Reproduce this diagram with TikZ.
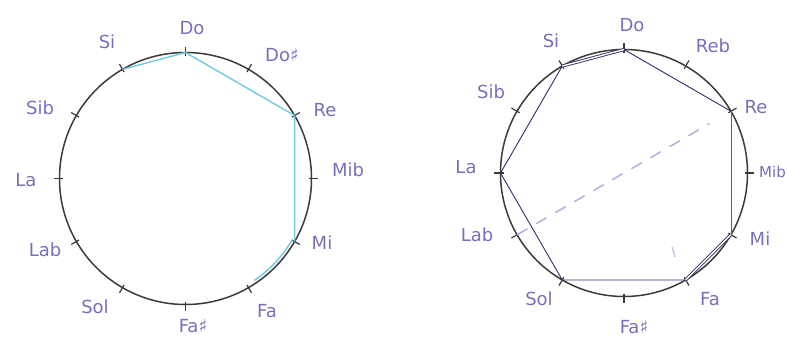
\documentclass[tikz,border=0pt]{standalone}
\usepackage{fontspec}
\setmainfont{DejaVu Sans}
\definecolor{InkBlue}{RGB}{118,112,188}
\definecolor{RingGray}{RGB}{62,58,58}
\definecolor{ScaleCyan}{RGB}{112,200,226}
\definecolor{ScaleNavy}{RGB}{48,46,104}
\definecolor{ScalePurple}{RGB}{92,82,170}
\definecolor{DashBlue}{RGB}{178,182,218}
\usetikzlibrary{calc}
\tikzset{
  ring/.style={RingGray,line width=1.5pt},
  tickmark/.style={RingGray,line width=1.2pt},
  note/.style={InkBlue,font=\fontsize{18}{20}\selectfont,inner sep=0pt},
  cyanscale/.style={ScaleCyan,line width=1.4pt,line join=round},
  navyscale/.style={ScaleNavy,line width=0.9pt,line join=round},
}

\begin{document}
\begin{tikzpicture}[x=1pt,y=-1pt]
\useasboundingbox (0,0) rectangle (787,340);
% Left circle
\coordinate (lc) at (185.5,178.5);
\draw[ring] (lc) circle (126);
\foreach \i in {0,...,11}{
  \coordinate (L\i) at ($(lc)+(-90+30*\i:126)$);
  \draw[tickmark] ($(lc)+(-90+30*\i:123)$) -- ($(lc)+(-90+30*\i:132)$);
}
\foreach \i/\txt/\x/\y in {0/Do/192/28, 1/Do♯/282/55, 2/Re/325/110, 3/Mib/348/170,
  4/Mi/322/243, 5/Fa/267/311, 6/Fa♯/193/326, 7/Sol/95/307,
  8/Lab/45/250, 9/La/26/180, 10/Sib/40/108, 11/Si/107/42}
  \node[note] (ln\i) at (\x,\y) {\txt};
% scale on the left circle
\draw[cyanscale] (L11) -- (L0) -- (L2) -- (L4);
\draw[cyanscale] ($(lc)+(30:123)$) arc[start angle=30,end angle=56,radius=123];

% Right circle
\coordinate (rc) at (624,173);
\draw[ring] (rc) circle (123.5);
\foreach \i in {0,...,11}{
  \coordinate (R\i) at ($(rc)+(-90+30*\i:123.5)$);
  \draw[tickmark] ($(rc)+(-90+30*\i:120.5)$) -- ($(rc)+(-90+30*\i:130)$);
}
\foreach \i/\txt/\x/\y in {0/Do/632/25, 1/Reb/713/46, 2/Re/756/107,
  4/Mi/760/239, 5/Fa/710/299, 6/Fa♯/634/327, 7/Sol/539/299,
  8/Lab/477/235, 9/La/466/167, 10/Sib/491/92, 11/Si/551/41}
  \node[note] (rn\i) at (\x,\y) {\txt};
\node[note,font=\fontsize{15}{17}\selectfont,anchor=east] (rn3) at (786,172) {Mib};
% dashed diameter Lab - Re
\coordinate (dashend) at ($(R8)!0.9!(R2)$);
\draw[DashBlue,line width=1.6pt,dash pattern=on 12pt off 10pt] (R8) -- (dashend);
\draw[DashBlue!80,line width=1.4pt] (672,247) -- (675,257);
% scale on the right circle
\draw[navyscale] (R0) -- (R2);
\draw[ScalePurple,line width=0.9pt] (R2) -- (R4);
\draw[navyscale] (R5) -- (R7) -- (R9) -- (R11);
\draw[navyscale,double=white,double distance=1.4pt] (R4) -- (R5);
\draw[navyscale,double=white,double distance=1.4pt] (R11) -- (R0);
\end{tikzpicture}
\end{document}
